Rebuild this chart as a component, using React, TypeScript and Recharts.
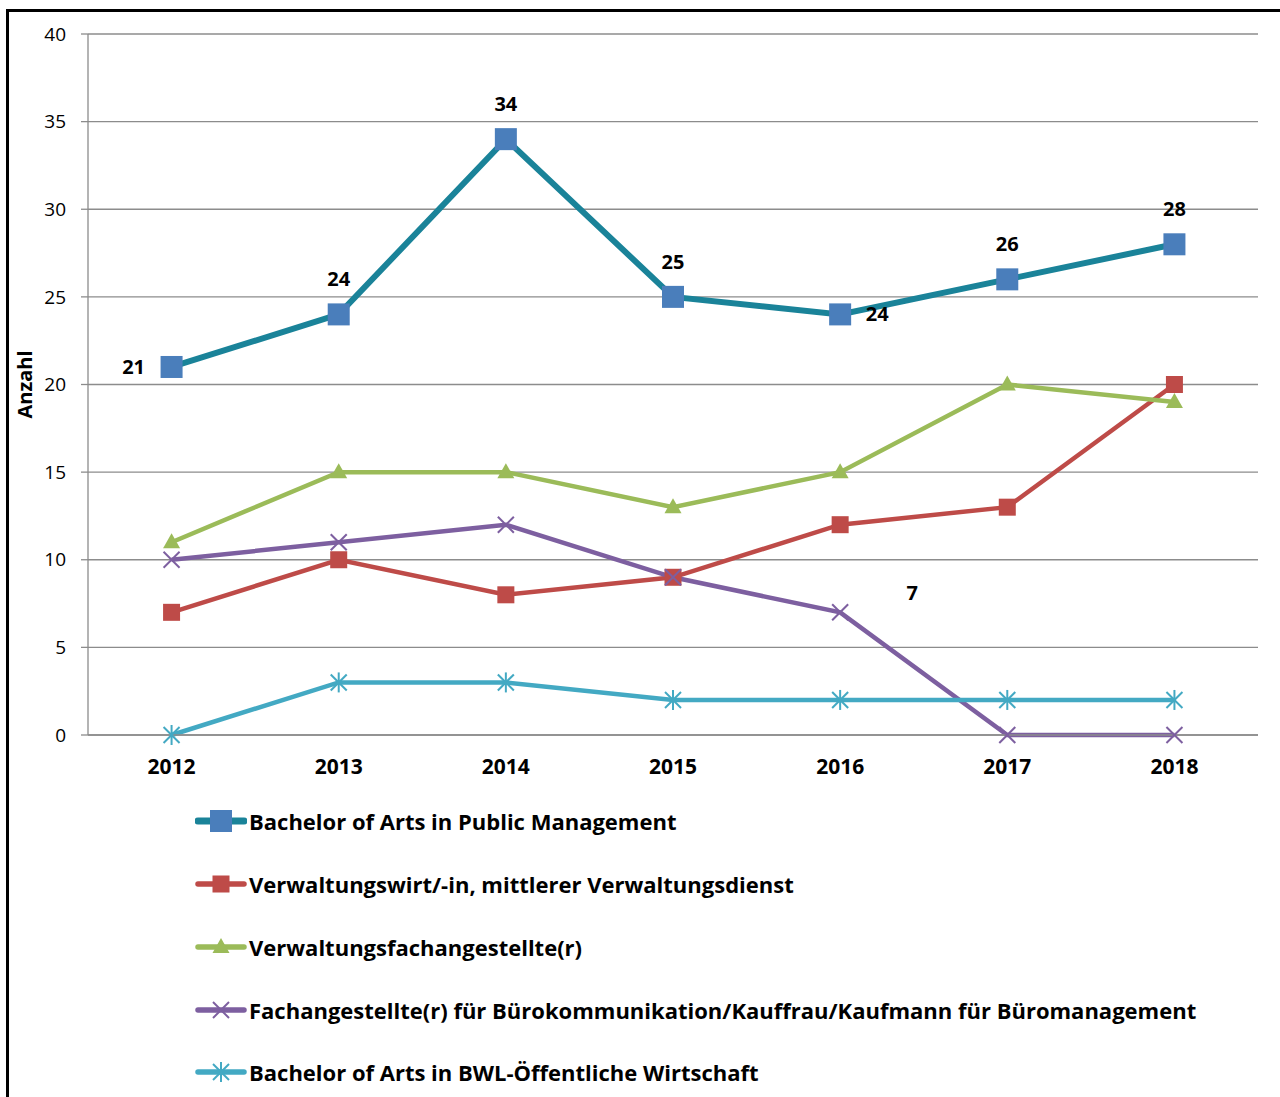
import { CartesianGrid, LabelList, Line, LineChart, XAxis, YAxis } from "recharts";

const years = ["2012", "2013", "2014", "2015", "2016", "2017", "2018"];
const bachelorPublicMgmt = [21, 24, 34, 25, 24, 26, 28];
const verwaltungswirt = [7, 10, 8, 9, 12, 13, 20];
const verwaltungsfach = [11, 15, 15, 13, 15, 20, 19];
const bueroKomm = [10, 11, 12, 9, 7, 0, 0];
const bwlOeffentlich = [0, 3, 3, 2, 2, 2, 2];
const yTicks = [0, 5, 10, 15, 20, 25, 30, 35, 40];
const yMinorTicks = Array.from({ length: 41 }, (_, i) => i);
const bandEdges = [0, 1, 2, 3, 4, 5, 6, 7];

// where the value labels of the first series sit
const labelSide = ["left", "top", "top", "top", "right", "top", "top"];

type Shape = "bigSquare" | "square" | "triangle" | "cross" | "star";

const series: { key: string; name: string; color: string; marker: string; width: number; shape: Shape }[] = [
  { key: "bpm", name: "Bachelor of Arts in Public Management", color: "#1a8399", marker: "#4a7ebb", width: 6, shape: "bigSquare" },
  { key: "vw", name: "Verwaltungswirt/-in, mittlerer Verwaltungsdienst", color: "#be4b48", marker: "#be4b48", width: 4.5, shape: "square" },
  { key: "vf", name: "Verwaltungsfachangestellte(r)", color: "#9bbb59", marker: "#9bbb59", width: 4.5, shape: "triangle" },
  { key: "bk", name: "Fachangestellte(r) für Bürokommunikation/Kauffrau/Kaufmann für Büromanagement", color: "#7d5fa0", marker: "#7d5fa0", width: 4.5, shape: "cross" },
  { key: "bwl", name: "Bachelor of Arts in BWL-Öffentliche Wirtschaft", color: "#43a9c3", marker: "#43a9c3", width: 4.5, shape: "star" },
];

const data = years.map((year, i) => ({
  year,
  bpm: bachelorPublicMgmt[i],
  vw: verwaltungswirt[i],
  vf: verwaltungsfach[i],
  bk: bueroKomm[i],
  bwl: bwlOeffentlich[i],
}));

const GRID = "#8c8c8c";
const FONT = "'Open Sans', 'Noto Sans', sans-serif";

function Marker({ shape, color, cx, cy }: { shape: Shape; color: string; cx: number; cy: number }) {
  if (shape === "bigSquare") return <rect x={cx - 11} y={cy - 11} width={22} height={22} fill={color} />;
  if (shape === "square") return <rect x={cx - 8.5} y={cy - 8.5} width={17} height={17} fill={color} />;
  if (shape === "triangle")
    return <polygon points={`${cx},${cy - 9} ${cx + 8.5},${cy + 6} ${cx - 8.5},${cy + 6}`} fill={color} />;
  if (shape === "cross")
    return (
      <g stroke={color} strokeWidth={2}>
        <line x1={cx - 8} y1={cy - 8} x2={cx + 8} y2={cy + 8} />
        <line x1={cx - 8} y1={cy + 8} x2={cx + 8} y2={cy - 8} />
      </g>
    );
  return (
    <g stroke={color} strokeWidth={2}>
      <line x1={cx - 8} y1={cy - 8} x2={cx + 8} y2={cy + 8} />
      <line x1={cx - 8} y1={cy + 8} x2={cx + 8} y2={cy - 8} />
      <line x1={cx} y1={cy - 10} x2={cx} y2={cy + 10} />
    </g>
  );
}

function TopLabels(props: any) {
  const { x, y, value, index } = props;
  const side = labelSide[index];
  let tx = x;
  let ty = y - 35;
  if (side === "left") {
    tx = x - 38;
    ty = y;
  } else if (side === "right") {
    tx = x + 37;
    ty = y;
  }
  return (
    <text x={tx} y={ty} dy="0.35em" textAnchor="middle" fontSize={20} fontWeight={700} fill="#000">
      {value}
    </text>
  );
}

function StrayLabel(props: any) {
  const { x, y, value, index } = props;
  if (index !== 4) return null;
  return (
    <text x={x + 72} y={y - 19} dy="0.35em" textAnchor="middle" fontSize={20} fontWeight={700} fill="#000">
      {value}
    </text>
  );
}

export default function App() {
  return (
    <div style={{ position: "fixed", left: 0, top: 0, width: 1280, height: 1097, overflow: "hidden", background: "#fff", fontFamily: FONT }}>
      <div style={{ position: "absolute", left: 6, top: 9, width: 1300, height: 1200, border: "3px solid #000", boxSizing: "border-box" }} />
      <div style={{ position: "absolute", left: 0, top: 0 }}>
        <LineChart width={1280} height={800} data={data} margin={{ top: 34, right: 22, left: 8, bottom: 25 }}>
          <CartesianGrid xAxisId="xb" yAxisId="y" vertical={false} stroke={GRID} strokeWidth={1.3} />
          <XAxis
            xAxisId="xb"
            type="number"
            domain={[0, 7]}
            ticks={bandEdges}
            interval={0}
            allowDataOverflow
            height={0}
            axisLine={false}
            tickSize={6}
            tickLine={{ stroke: GRID, strokeWidth: 1.3 }}
            tickFormatter={() => ""}
          />
          <XAxis
            xAxisId="x"
            dataKey="year"
            scale="band"
            height={40}
            tickLine={false}
            tickMargin={18}
            axisLine={{ stroke: GRID, strokeWidth: 1.3 }}
            tick={{ fill: "#000", fontSize: 21, fontWeight: 700 }}
          />
          <YAxis
            yAxisId="y"
            width={80}
            domain={[0, 40]}
            ticks={yTicks}
            interval={0}
            tickSize={7}
            tickMargin={15}
            axisLine={{ stroke: GRID, strokeWidth: 1.3 }}
            tickLine={{ stroke: GRID, strokeWidth: 1.3 }}
            tick={{ fill: "#000", fontSize: 19 }}
            label={{
              content: (p: any) => {
                const vb = p.viewBox;
                const cy = vb.y + vb.height / 2;
                return (
                  <text x={25} y={cy} transform={`rotate(-90, 25, ${cy})`} dy="0.35em" textAnchor="middle" fontSize={20} fontWeight={700} fill="#000">
                    Anzahl
                  </text>
                );
              },
            }}
          />
          <YAxis
            yAxisId="ym"
            width={0}
            mirror
            domain={[0, 40]}
            ticks={yMinorTicks}
            interval={0}
            tickSize={6}
            axisLine={false}
            tickLine={{ stroke: GRID, strokeWidth: 1.3 }}
            tickFormatter={() => ""}
          />
          {series.map((s) => (
            <Line
              key={s.key}
              xAxisId="x"
              yAxisId="y"
              dataKey={s.key}
              name={s.name}
              stroke={s.color}
              strokeWidth={s.width}
              isAnimationActive={false}
              dot={(p: any) => <Marker key={`${s.key}-${p.index}`} shape={s.shape} color={s.marker} cx={p.cx} cy={p.cy} />}
              activeDot={false}
            >
              {s.key === "bpm" && <LabelList dataKey="bpm" content={TopLabels} />}
              {s.key === "bk" && <LabelList dataKey="bk" content={StrayLabel} />}
            </Line>
          ))}
        </LineChart>
      </div>
      <div style={{ position: "absolute", left: 195, top: 790 }}>
        {series.map((s) => (
          <div key={s.key} style={{ display: "flex", alignItems: "center", height: 62.75 }}>
            <svg width={52} height={24}>
              <line x1={3} y1={12} x2={49} y2={12} stroke={s.color} strokeWidth={s.width + 1} strokeLinecap="round" />
              <Marker shape={s.shape} color={s.marker} cx={26} cy={12} />
            </svg>
            <span style={{ marginLeft: 2, fontSize: 22, fontWeight: 700, color: "#000", whiteSpace: "nowrap" }}>{s.name}</span>
          </div>
        ))}
      </div>
    </div>
  );
}
